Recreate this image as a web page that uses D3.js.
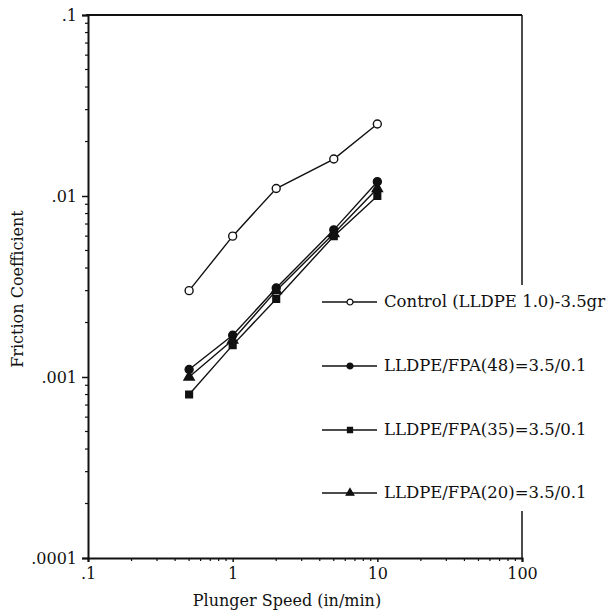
<!DOCTYPE html>
<html><head><meta charset="utf-8">
<script src="https://d3js.org/d3.v7.min.js"></script>
<style>body{margin:0;background:#fff}</style>
</head><body>
<svg id="c" width="608" height="615"></svg>
<script>
const speeds = [0.5, 1, 2, 5, 10];
const control = [0.003, 0.006, 0.011, 0.016, 0.025];
const fpa48 = [0.0011, 0.0017, 0.0031, 0.0065, 0.012];
const fpa35 = [0.0008, 0.0015, 0.0027, 0.006, 0.010];
const fpa20 = [0.001, 0.0016, 0.003, 0.0062, 0.011];
const seriesNames = ["Control (LLDPE 1.0)-3.5gr", "LLDPE/FPA(48)=3.5/0.1", "LLDPE/FPA(35)=3.5/0.1", "LLDPE/FPA(20)=3.5/0.1"];
const xTicks = [0.1, 1, 10, 100];
const xTickLabels = [".1", "1", "10", "100"];
const yTicks = [0.0001, 0.001, 0.01, 0.1];
const yTickLabels = [".0001", ".001", ".01", ".1"];

const font = "'DejaVu Serif', serif";
const svg = d3.select("#c");
const L = 88, R = 522, T = 15, B = 558;
const x = d3.scaleLog().domain([0.1, 100]).range([L, R]);
const y = d3.scaleLog().domain([0.0001, 0.1]).range([B, T]);

const ink = "#111";
svg.append("line").attr("x1", L - 2).attr("x2", R).attr("y1", T).attr("y2", T).attr("stroke", ink).attr("stroke-width", 2);
svg.append("line").attr("x1", R).attr("x2", R).attr("y1", T).attr("y2", B).attr("stroke", ink).attr("stroke-width", 1.5);

const minors = (lo, hi) => { const a = []; for (let d = lo; d < hi; d *= 10) for (let k = 2; k <= 9; k++) a.push(d * k); return a; };

const yAxis = d3.axisLeft(y).tickValues(yTicks).tickFormat((d, i) => yTickLabels[i]).tickSize(6).tickPadding(5);
const gy = svg.append("g").attr("transform", `translate(${L},0)`).call(yAxis);
gy.select(".domain").attr("stroke", ink).attr("stroke-width", 2);
gy.selectAll(".tick line").attr("stroke", ink).attr("stroke-width", 1.5);
gy.selectAll("text").attr("font-family", font).attr("font-size", 16).attr("fill", ink);
gy.selectAll(".minor").data(minors(0.0001, 0.1)).enter().append("line").attr("class", "minor")
  .attr("x1", -3).attr("x2", 1).attr("y1", d => y(d)).attr("y2", d => y(d)).attr("stroke", ink).attr("stroke-width", 1.2);

const xAxis = d3.axisBottom(x).tickValues(xTicks).tickFormat((d, i) => xTickLabels[i]).tickSize(4).tickPadding(6);
const gx = svg.append("g").attr("transform", `translate(0,${B})`).call(xAxis);
gx.select(".domain").attr("stroke", ink).attr("stroke-width", 2);
gx.selectAll(".tick line").attr("stroke", ink).attr("stroke-width", 1.5);
gx.selectAll("text").attr("font-family", font).attr("font-size", 16).attr("fill", ink);
gx.selectAll(".minor").data(minors(0.1, 100)).enter().append("line").attr("class", "minor")
  .attr("x1", d => x(d)).attr("x2", d => x(d)).attr("y1", 0).attr("y2", 3).attr("stroke", ink).attr("stroke-width", 1.2);

svg.append("text").attr("x", 287).attr("y", 606).attr("text-anchor", "middle")
  .attr("font-family", font).attr("font-size", 16).attr("fill", ink).text("Plunger Speed (in/min)");
svg.append("text").attr("transform", "translate(23,289) rotate(-90)").attr("text-anchor", "middle")
  .attr("font-family", font).attr("font-size", 16).attr("fill", ink).text("Friction Coefficient");

const series = [
  {name: seriesNames[0], vals: control, shape: "circle", fill: "#fff"},
  {name: seriesNames[1], vals: fpa48, shape: "circle", fill: ink},
  {name: seriesNames[2], vals: fpa35, shape: "square", fill: ink},
  {name: seriesNames[3], vals: fpa20, shape: "triangle", fill: ink}
];
const symType = {circle: d3.symbolCircle, square: d3.symbolSquare, triangle: d3.symbolTriangle};
const symSize = {circle: 50, square: 45, triangle: 45};

const line = d3.line().x(d => x(d[0])).y(d => y(d[1]));
series.forEach(s => {
  const pts = speeds.map((v, i) => [v, s.vals[i]]);
  svg.append("path").attr("d", line(pts)).attr("fill", "none").attr("stroke", ink).attr("stroke-width", 1.4);
  svg.selectAll(null).data(pts).enter().append("path")
    .attr("d", d3.symbol().type(symType[s.shape]).size(symSize[s.shape]))
    .attr("transform", d => `translate(${x(d[0])},${y(d[1])})`)
    .attr("fill", s.fill).attr("stroke", ink).attr("stroke-width", 1.4);
});

const lg = svg.append("g");
lg.append("rect").attr("x", 318).attr("y", 285).attr("width", 290).attr("height", 226).attr("fill", "#fff");
const rowY = [302, 366, 430, 493];
series.forEach((s, i) => {
  const yy = rowY[i];
  lg.append("line").attr("x1", 322).attr("x2", 377).attr("y1", yy).attr("y2", yy).attr("stroke", ink).attr("stroke-width", 1.4);
  lg.append("path").attr("d", d3.symbol().type(symType[s.shape]).size(symSize[s.shape] * 0.55))
    .attr("transform", `translate(350,${yy})`).attr("fill", s.fill).attr("stroke", ink).attr("stroke-width", 1.3);
  lg.append("text").attr("x", 384).attr("y", yy + 5).attr("font-family", font).attr("font-size", 16.5)
    .attr("fill", ink).text(s.name);
});
</script>
</body></html>
